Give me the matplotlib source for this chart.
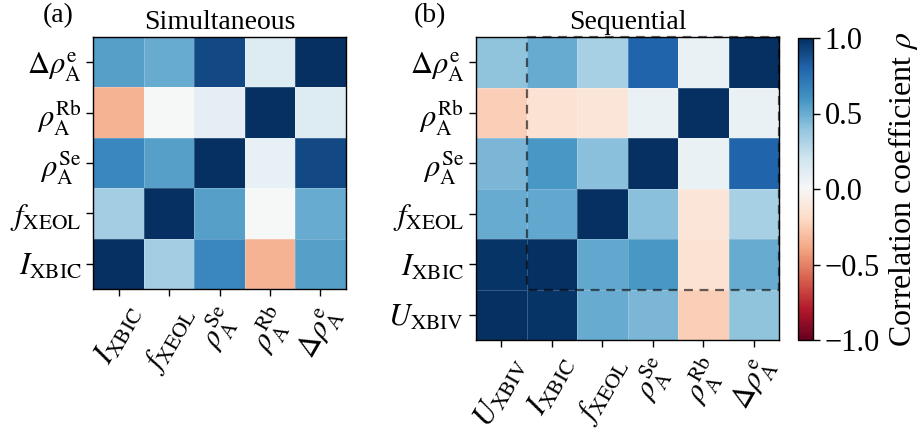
import numpy as np
import matplotlib
matplotlib.use("Agg")
import matplotlib.pyplot as plt
from matplotlib.patches import Rectangle

plt.rcParams["font.family"] = ["Liberation Serif", "DejaVu Serif"]
plt.rcParams["mathtext.fontset"] = "stix"

LBL = {
    "de": r"$\Delta\rho_{\mathrm{A}}^{\mathrm{e}}$",
    "rb": r"$\rho_{\mathrm{A}}^{\mathrm{Rb}}$",
    "se": r"$\rho_{\mathrm{A}}^{\mathrm{Se}}$",
    "f": r"$f_{\mathrm{XEOL}}$",
    "i": r"$I_{\mathrm{XBIC}}$",
    "u": r"$U_{\mathrm{XBIV}}$",
}

# (a) simultaneous: rows top->bottom, columns left->right
sim_rows = ["de", "rb", "se", "f", "i"]
sim_cols = ["i", "f", "se", "rb", "de"]
sim_corr = [
    [0.55, 0.50, 0.90, 0.14, 1.00],
    [-0.35, 0.00, 0.10, 1.00, 0.14],
    [0.65, 0.55, 1.00, 0.08, 0.90],
    [0.35, 1.00, 0.55, 0.00, 0.50],
    [1.00, 0.35, 0.65, -0.35, 0.55],
]

# (b) sequential
seq_rows = ["de", "rb", "se", "f", "i", "u"]
seq_cols = ["u", "i", "f", "se", "rb", "de"]
seq_corr = [
    [0.40, 0.50, 0.33, 0.80, 0.07, 1.00],
    [-0.25, -0.15, -0.13, 0.07, 1.00, 0.07],
    [0.46, 0.58, 0.42, 1.00, 0.07, 0.80],
    [0.50, 0.52, 1.00, 0.42, -0.13, 0.33],
    [0.98, 1.00, 0.52, 0.58, -0.15, 0.50],
    [1.00, 0.98, 0.50, 0.46, -0.25, 0.40],
]


def draw_heatmap(ax, corr, rows, cols):
    data = np.array(corr)
    mesh = ax.pcolormesh(data, cmap="RdBu", vmin=-1, vmax=1,
                         edgecolors=(1, 1, 1, 0.2), linewidth=0.4)
    ax.set_xlim(0, len(cols))
    ax.set_ylim(len(rows), 0)
    ax.set_aspect("equal")
    ax.set_xticks(np.arange(len(cols)) + 0.5)
    ax.set_yticks(np.arange(len(rows)) + 0.5)
    ax.set_xticklabels([LBL[c] for c in cols], rotation=60, fontsize=22)
    ax.set_yticklabels([LBL[r] for r in rows], fontsize=22)
    ax.tick_params(length=5, width=1)
    for s in ax.spines.values():
        s.set_linewidth(1)
    return mesh


fig = plt.figure(figsize=(9.19, 4.32), dpi=100)
W, H = 919, 432

ax1 = fig.add_axes([92 / W, 1 - 289 / H, 255 / W, 252 / H])
ax2 = fig.add_axes([476 / W, 1 - 340 / H, 303 / W, 303 / H])
cax = fig.add_axes([798 / W, 1 - 340 / H, 15 / W, 302 / H])

draw_heatmap(ax1, sim_corr, sim_rows, sim_cols)
mesh = draw_heatmap(ax2, seq_corr, seq_rows, seq_cols)

ax2.add_patch(Rectangle((1, 0), 5, 5, fill=False, edgecolor="black",
                        alpha=0.6, linestyle=(0, (4, 3)), linewidth=1.6,
                        clip_on=False))

ax1.set_title("Simultaneous", fontsize=20, pad=6)
ax2.set_title("Sequential", fontsize=20, pad=6)
fig.text(58 / W, 1 - 16 / H, "(a)", fontsize=20, ha="center", va="center")
fig.text(430 / W, 1 - 16 / H, "(b)", fontsize=20, ha="center", va="center")

cb = fig.colorbar(mesh, cax=cax, ticks=[-1, -0.5, 0, 0.5, 1])
cb.ax.set_yticklabels(["\u22121.0", "\u22120.5", "0.0", "0.5", "1.0"])
cb.ax.tick_params(labelsize=22, length=5, width=1)
cb.outline.set_linewidth(1)
cb.set_label(r"Correlation coefficient $\rho$", fontsize=23, labelpad=4)

fig.savefig("out.png", dpi=100)
